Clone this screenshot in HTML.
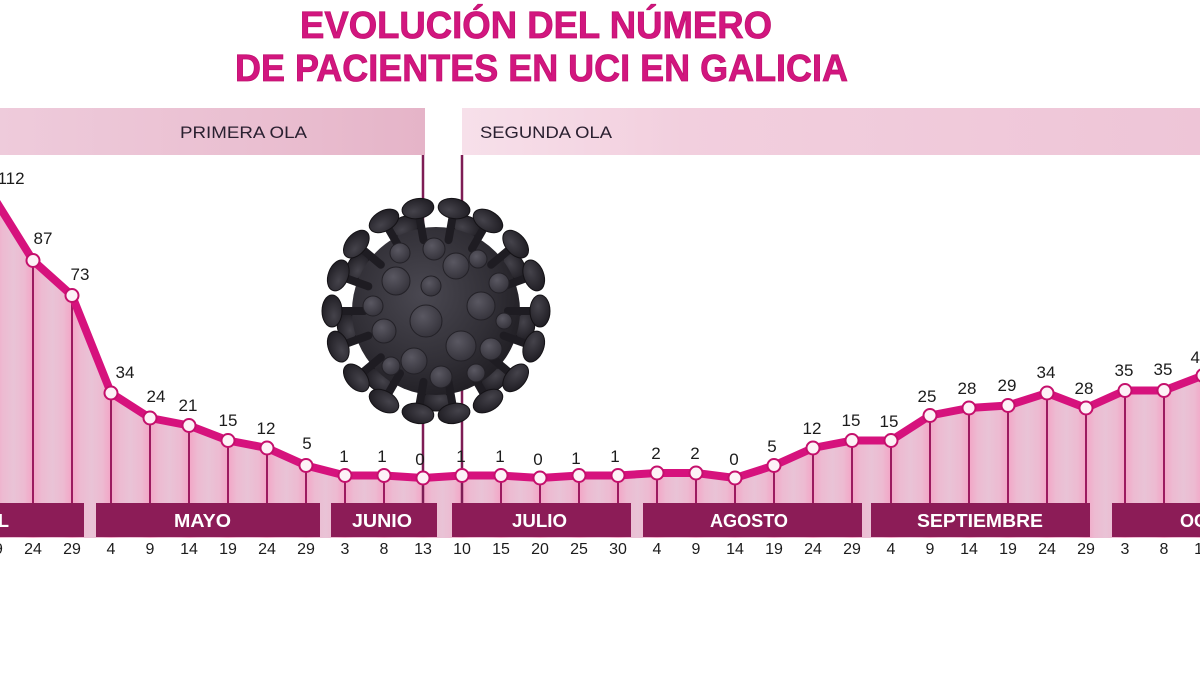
<!DOCTYPE html>
<html><head><meta charset="utf-8"><style>
html,body{margin:0;padding:0;background:#fff;}
svg{display:block;}
text{font-family:"Liberation Sans",sans-serif;}
</style></head><body>
<svg width="1200" height="675" viewBox="0 0 1200 675" xmlns="http://www.w3.org/2000/svg">
<defs>
  <linearGradient id="colg" x1="0" x2="1" y1="0" y2="0">
    <stop offset="0" stop-color="#f3a5c6"/>
    <stop offset="0.22" stop-color="#edbad1"/>
    <stop offset="0.5" stop-color="#e9c3d6"/>
    <stop offset="0.78" stop-color="#edbad1"/>
    <stop offset="1" stop-color="#f3a5c6"/>
  </linearGradient>
  <pattern id="cols" patternUnits="userSpaceOnUse" x="-6" y="0" width="39" height="675">
    <rect x="0" y="0" width="39" height="675" fill="url(#colg)"/>
  </pattern>
  <linearGradient id="band1" x1="0" x2="1" y1="0" y2="0">
    <stop offset="0" stop-color="#eecbdb"/>
    <stop offset="0.6" stop-color="#eabfd1"/>
    <stop offset="1" stop-color="#e5b4c8"/>
  </linearGradient>
  <linearGradient id="band2" x1="0" x2="1" y1="0" y2="0">
    <stop offset="0" stop-color="#f7e0ea"/>
    <stop offset="0.3" stop-color="#f2cfde"/>
    <stop offset="1" stop-color="#eec5d7"/>
  </linearGradient>
  <radialGradient id="vbody" cx="0.42" cy="0.4" r="0.7">
    <stop offset="0" stop-color="#4a4851"/>
    <stop offset="0.6" stop-color="#312f36"/>
    <stop offset="1" stop-color="#1b191e"/>
  </radialGradient>
  <radialGradient id="bump" cx="0.4" cy="0.35" r="0.7">
    <stop offset="0" stop-color="#5a5862"/>
    <stop offset="1" stop-color="#34323a"/>
  </radialGradient>
  <radialGradient id="cap" cx="0.4" cy="0.35" r="0.75">
    <stop offset="0" stop-color="#45434b"/>
    <stop offset="1" stop-color="#1c1a20"/>
  </radialGradient>
</defs>

<!-- Title -->
<text x="300" y="38" font-size="38" font-weight="bold" fill="#d2167f" stroke="#c0126f" stroke-width="0.8" textLength="472" lengthAdjust="spacingAndGlyphs">EVOLUCIÓN DEL NÚMERO</text>
<text x="235" y="81" font-size="38" font-weight="bold" fill="#d2167f" stroke="#c0126f" stroke-width="0.8" textLength="613" lengthAdjust="spacingAndGlyphs">DE PACIENTES EN UCI EN GALICIA</text>

<!-- Bands -->
<rect x="0" y="108" width="425" height="47" fill="url(#band1)"/>
<rect x="462" y="108" width="738" height="47" fill="url(#band2)"/>
<text x="180" y="138" font-size="17" fill="#2a2030" textLength="127" lengthAdjust="spacingAndGlyphs">PRIMERA OLA</text>
<text x="480" y="138" font-size="17" fill="#2a2030" textLength="132" lengthAdjust="spacingAndGlyphs">SEGUNDA OLA</text>

<!-- Fill area -->
<polygon fill="url(#cols)" points="-6,198 33,260.5 72,295.5 111,393 150,418 189,425.5 228,440.5 267,448 306,465.5 345,475.5 384,475.5 423,478 462,475.5 501,475.5 540,478 579,475.5 618,475.5 657,473 696,473 735,478 774,465.5 813,448 852,440.5 891,440.5 930,415.5 969,408 1008,405.5 1047,393 1086,408 1125,390.5 1164,390.5 1203,375.5 1203,538 -6,538"/>

<!-- Drop lines -->
<g stroke="#9c1a5f" stroke-width="2">
  <line x1="33" y1="260" x2="33" y2="503"/>
  <line x1="72" y1="295" x2="72" y2="503"/>
  <line x1="111" y1="393" x2="111" y2="503"/>
  <line x1="150" y1="418" x2="150" y2="503"/>
  <line x1="189" y1="425" x2="189" y2="503"/>
  <line x1="228" y1="440" x2="228" y2="503"/>
  <line x1="267" y1="448" x2="267" y2="503"/>
  <line x1="306" y1="465" x2="306" y2="503"/>
  <line x1="345" y1="475" x2="345" y2="503"/>
  <line x1="384" y1="475" x2="384" y2="503"/>
  <line x1="501" y1="475" x2="501" y2="503"/>
  <line x1="540" y1="478" x2="540" y2="503"/>
  <line x1="579" y1="475" x2="579" y2="503"/>
  <line x1="618" y1="475" x2="618" y2="503"/>
  <line x1="657" y1="473" x2="657" y2="503"/>
  <line x1="696" y1="473" x2="696" y2="503"/>
  <line x1="735" y1="478" x2="735" y2="503"/>
  <line x1="774" y1="465" x2="774" y2="503"/>
  <line x1="813" y1="448" x2="813" y2="503"/>
  <line x1="852" y1="440" x2="852" y2="503"/>
  <line x1="891" y1="440" x2="891" y2="503"/>
  <line x1="930" y1="415" x2="930" y2="503"/>
  <line x1="969" y1="408" x2="969" y2="503"/>
  <line x1="1008" y1="405" x2="1008" y2="503"/>
  <line x1="1047" y1="393" x2="1047" y2="503"/>
  <line x1="1086" y1="408" x2="1086" y2="503"/>
  <line x1="1125" y1="390" x2="1125" y2="503"/>
  <line x1="1164" y1="390" x2="1164" y2="503"/>
</g>
<g stroke="#7e1d55" stroke-width="2.5">
  <line x1="423" y1="155" x2="423" y2="503"/>
  <line x1="462" y1="155" x2="462" y2="503"/>
</g>

<!-- Virus -->
<g transform="translate(436,311)">
  <g fill="url(#cap)" stroke="#161418" stroke-width="1">
    <g transform="rotate(10)"><ellipse cx="90" cy="0" rx="10" ry="14"/></g>
    <g transform="rotate(50)"><ellipse cx="90" cy="0" rx="10" ry="14"/></g>
    <g transform="rotate(90)"><ellipse cx="90" cy="0" rx="10" ry="14"/></g>
    <g transform="rotate(130)"><ellipse cx="90" cy="0" rx="10" ry="14"/></g>
    <g transform="rotate(170)"><ellipse cx="90" cy="0" rx="10" ry="14"/></g>
    <g transform="rotate(210)"><ellipse cx="90" cy="0" rx="10" ry="14"/></g>
    <g transform="rotate(250)"><ellipse cx="90" cy="0" rx="10" ry="14"/></g>
    <g transform="rotate(290)"><ellipse cx="90" cy="0" rx="10" ry="14"/></g>
    <g transform="rotate(330)"><ellipse cx="90" cy="0" rx="10" ry="14"/></g>
  </g>
  <circle cx="0" cy="0" r="84" fill="url(#vbody)"/>
  <g stroke="#1e1c22" stroke-width="8" stroke-linecap="round">
    <line x1="72" y1="0" x2="98" y2="0" transform="rotate(0)"/>
    <line x1="72" y1="0" x2="98" y2="0" transform="rotate(20)"/>
    <line x1="72" y1="0" x2="98" y2="0" transform="rotate(40)"/>
    <line x1="72" y1="0" x2="98" y2="0" transform="rotate(60)"/>
    <line x1="72" y1="0" x2="98" y2="0" transform="rotate(80)"/>
    <line x1="72" y1="0" x2="98" y2="0" transform="rotate(100)"/>
    <line x1="72" y1="0" x2="98" y2="0" transform="rotate(120)"/>
    <line x1="72" y1="0" x2="98" y2="0" transform="rotate(140)"/>
    <line x1="72" y1="0" x2="98" y2="0" transform="rotate(160)"/>
    <line x1="72" y1="0" x2="98" y2="0" transform="rotate(180)"/>
    <line x1="72" y1="0" x2="98" y2="0" transform="rotate(200)"/>
    <line x1="72" y1="0" x2="98" y2="0" transform="rotate(220)"/>
    <line x1="72" y1="0" x2="98" y2="0" transform="rotate(240)"/>
    <line x1="72" y1="0" x2="98" y2="0" transform="rotate(260)"/>
    <line x1="72" y1="0" x2="98" y2="0" transform="rotate(280)"/>
    <line x1="72" y1="0" x2="98" y2="0" transform="rotate(300)"/>
    <line x1="72" y1="0" x2="98" y2="0" transform="rotate(320)"/>
    <line x1="72" y1="0" x2="98" y2="0" transform="rotate(340)"/>
  </g>
  <g fill="url(#cap)" stroke="#141216" stroke-width="1">
    <g transform="rotate(0)"><ellipse cx="104" cy="0" rx="10" ry="16"/></g>
    <g transform="rotate(20)"><ellipse cx="104" cy="0" rx="10" ry="16"/></g>
    <g transform="rotate(40)"><ellipse cx="104" cy="0" rx="10" ry="16"/></g>
    <g transform="rotate(60)"><ellipse cx="104" cy="0" rx="10" ry="16"/></g>
    <g transform="rotate(80)"><ellipse cx="104" cy="0" rx="10" ry="16"/></g>
    <g transform="rotate(100)"><ellipse cx="104" cy="0" rx="10" ry="16"/></g>
    <g transform="rotate(120)"><ellipse cx="104" cy="0" rx="10" ry="16"/></g>
    <g transform="rotate(140)"><ellipse cx="104" cy="0" rx="10" ry="16"/></g>
    <g transform="rotate(160)"><ellipse cx="104" cy="0" rx="10" ry="16"/></g>
    <g transform="rotate(180)"><ellipse cx="104" cy="0" rx="10" ry="16"/></g>
    <g transform="rotate(200)"><ellipse cx="104" cy="0" rx="10" ry="16"/></g>
    <g transform="rotate(220)"><ellipse cx="104" cy="0" rx="10" ry="16"/></g>
    <g transform="rotate(240)"><ellipse cx="104" cy="0" rx="10" ry="16"/></g>
    <g transform="rotate(260)"><ellipse cx="104" cy="0" rx="10" ry="16"/></g>
    <g transform="rotate(280)"><ellipse cx="104" cy="0" rx="10" ry="16"/></g>
    <g transform="rotate(300)"><ellipse cx="104" cy="0" rx="10" ry="16"/></g>
    <g transform="rotate(320)"><ellipse cx="104" cy="0" rx="10" ry="16"/></g>
    <g transform="rotate(340)"><ellipse cx="104" cy="0" rx="10" ry="16"/></g>
  </g>
  <g fill="url(#bump)" stroke="#232127" stroke-width="1">
    <circle cx="-40" cy="-30" r="14"/>
    <circle cx="20" cy="-45" r="13"/>
    <circle cx="45" cy="-5" r="14"/>
    <circle cx="-10" cy="10" r="16"/>
    <circle cx="-52" cy="20" r="12"/>
    <circle cx="25" cy="35" r="15"/>
    <circle cx="-22" cy="50" r="13"/>
    <circle cx="55" cy="38" r="11"/>
    <circle cx="-63" cy="-5" r="10"/>
    <circle cx="-2" cy="-62" r="11"/>
    <circle cx="42" cy="-52" r="9"/>
    <circle cx="-36" cy="-58" r="10"/>
    <circle cx="63" cy="-28" r="10"/>
    <circle cx="5" cy="66" r="11"/>
    <circle cx="-5" cy="-25" r="10"/>
    <circle cx="-45" cy="55" r="9"/>
    <circle cx="40" cy="62" r="9"/>
    <circle cx="68" cy="10" r="8"/>
  </g>
</g>

<!-- Month bars -->
<g fill="#8c1c57">
  <rect x="-10" y="503" width="94" height="34"/>
  <rect x="96" y="503" width="224" height="34"/>
  <rect x="331" y="503" width="106" height="34"/>
  <rect x="452" y="503" width="179" height="34"/>
  <rect x="643" y="503" width="219" height="34"/>
  <rect x="871" y="503" width="219" height="34"/>
  <rect x="1112" y="503" width="100" height="34"/>
</g>
<g fill="#ffffff" font-size="18" font-weight="bold">
  <text x="9" y="527" text-anchor="end">ABRIL</text>
  <text x="174" y="527" textLength="57" lengthAdjust="spacingAndGlyphs">MAYO</text>
  <text x="352" y="527" textLength="60" lengthAdjust="spacingAndGlyphs">JUNIO</text>
  <text x="512" y="527" textLength="55" lengthAdjust="spacingAndGlyphs">JULIO</text>
  <text x="710" y="527" textLength="78" lengthAdjust="spacingAndGlyphs">AGOSTO</text>
  <text x="917" y="527" textLength="126" lengthAdjust="spacingAndGlyphs">SEPTIEMBRE</text>
  <text x="1180" y="527">OCTUBRE</text>
</g>

<!-- Data line -->
<polyline fill="none" stroke="#d6127d" stroke-width="8" stroke-linejoin="round" stroke-linecap="round" points="-6,198 33,260.5 72,295.5 111,393 150,418 189,425.5 228,440.5 267,448 306,465.5 345,475.5 384,475.5 423,478 462,475.5 501,475.5 540,478 579,475.5 618,475.5 657,473 696,473 735,478 774,465.5 813,448 852,440.5 891,440.5 930,415.5 969,408 1008,405.5 1047,393 1086,408 1125,390.5 1164,390.5 1203,375.5"/>
<g fill="#fdf2f7" stroke="#c4106c" stroke-width="2">
  <circle cx="33" cy="260.5" r="6.5"/>
  <circle cx="72" cy="295.5" r="6.5"/>
  <circle cx="111" cy="393" r="6.5"/>
  <circle cx="150" cy="418" r="6.5"/>
  <circle cx="189" cy="425.5" r="6.5"/>
  <circle cx="228" cy="440.5" r="6.5"/>
  <circle cx="267" cy="448" r="6.5"/>
  <circle cx="306" cy="465.5" r="6.5"/>
  <circle cx="345" cy="475.5" r="6.5"/>
  <circle cx="384" cy="475.5" r="6.5"/>
  <circle cx="423" cy="478" r="6.5"/>
  <circle cx="462" cy="475.5" r="6.5"/>
  <circle cx="501" cy="475.5" r="6.5"/>
  <circle cx="540" cy="478" r="6.5"/>
  <circle cx="579" cy="475.5" r="6.5"/>
  <circle cx="618" cy="475.5" r="6.5"/>
  <circle cx="657" cy="473" r="6.5"/>
  <circle cx="696" cy="473" r="6.5"/>
  <circle cx="735" cy="478" r="6.5"/>
  <circle cx="774" cy="465.5" r="6.5"/>
  <circle cx="813" cy="448" r="6.5"/>
  <circle cx="852" cy="440.5" r="6.5"/>
  <circle cx="891" cy="440.5" r="6.5"/>
  <circle cx="930" cy="415.5" r="6.5"/>
  <circle cx="969" cy="408" r="6.5"/>
  <circle cx="1008" cy="405.5" r="6.5"/>
  <circle cx="1047" cy="393" r="6.5"/>
  <circle cx="1086" cy="408" r="6.5"/>
  <circle cx="1125" cy="390.5" r="6.5"/>
  <circle cx="1164" cy="390.5" r="6.5"/>
  <circle cx="1203" cy="375.5" r="6.5"/>
</g>

<!-- Value labels -->
<g fill="#1c1c1c" font-size="17" text-anchor="middle">
  <text x="11" y="184">112</text>
  <text x="43" y="244">87</text>
  <text x="80" y="280">73</text>
  <text x="125" y="378">34</text>
  <text x="156" y="402">24</text>
  <text x="188" y="411">21</text>
  <text x="228" y="426">15</text>
  <text x="266" y="434">12</text>
  <text x="307" y="449">5</text>
  <text x="344" y="462">1</text>
  <text x="382" y="462">1</text>
  <text x="420" y="465">0</text>
  <text x="461" y="462">1</text>
  <text x="500" y="462">1</text>
  <text x="538" y="465">0</text>
  <text x="576" y="464">1</text>
  <text x="615" y="462">1</text>
  <text x="656" y="459">2</text>
  <text x="695" y="459">2</text>
  <text x="734" y="465">0</text>
  <text x="772" y="452">5</text>
  <text x="812" y="434">12</text>
  <text x="851" y="426">15</text>
  <text x="889" y="427">15</text>
  <text x="927" y="402">25</text>
  <text x="967" y="394">28</text>
  <text x="1007" y="391">29</text>
  <text x="1046" y="378">34</text>
  <text x="1084" y="394">28</text>
  <text x="1124" y="376">35</text>
  <text x="1163" y="375">35</text>
  <text x="1200" y="363">41</text>
</g>

<!-- Day labels -->
<g fill="#1c1c1c" font-size="16" text-anchor="middle">
  <text x="-6" y="554">19</text>
  <text x="33" y="554">24</text>
  <text x="72" y="554">29</text>
  <text x="111" y="554">4</text>
  <text x="150" y="554">9</text>
  <text x="189" y="554">14</text>
  <text x="228" y="554">19</text>
  <text x="267" y="554">24</text>
  <text x="306" y="554">29</text>
  <text x="345" y="554">3</text>
  <text x="384" y="554">8</text>
  <text x="423" y="554">13</text>
  <text x="462" y="554">10</text>
  <text x="501" y="554">15</text>
  <text x="540" y="554">20</text>
  <text x="579" y="554">25</text>
  <text x="618" y="554">30</text>
  <text x="657" y="554">4</text>
  <text x="696" y="554">9</text>
  <text x="735" y="554">14</text>
  <text x="774" y="554">19</text>
  <text x="813" y="554">24</text>
  <text x="852" y="554">29</text>
  <text x="891" y="554">4</text>
  <text x="930" y="554">9</text>
  <text x="969" y="554">14</text>
  <text x="1008" y="554">19</text>
  <text x="1047" y="554">24</text>
  <text x="1086" y="554">29</text>
  <text x="1125" y="554">3</text>
  <text x="1164" y="554">8</text>
  <text x="1203" y="554">13</text>
</g>
</svg>
</body></html>
